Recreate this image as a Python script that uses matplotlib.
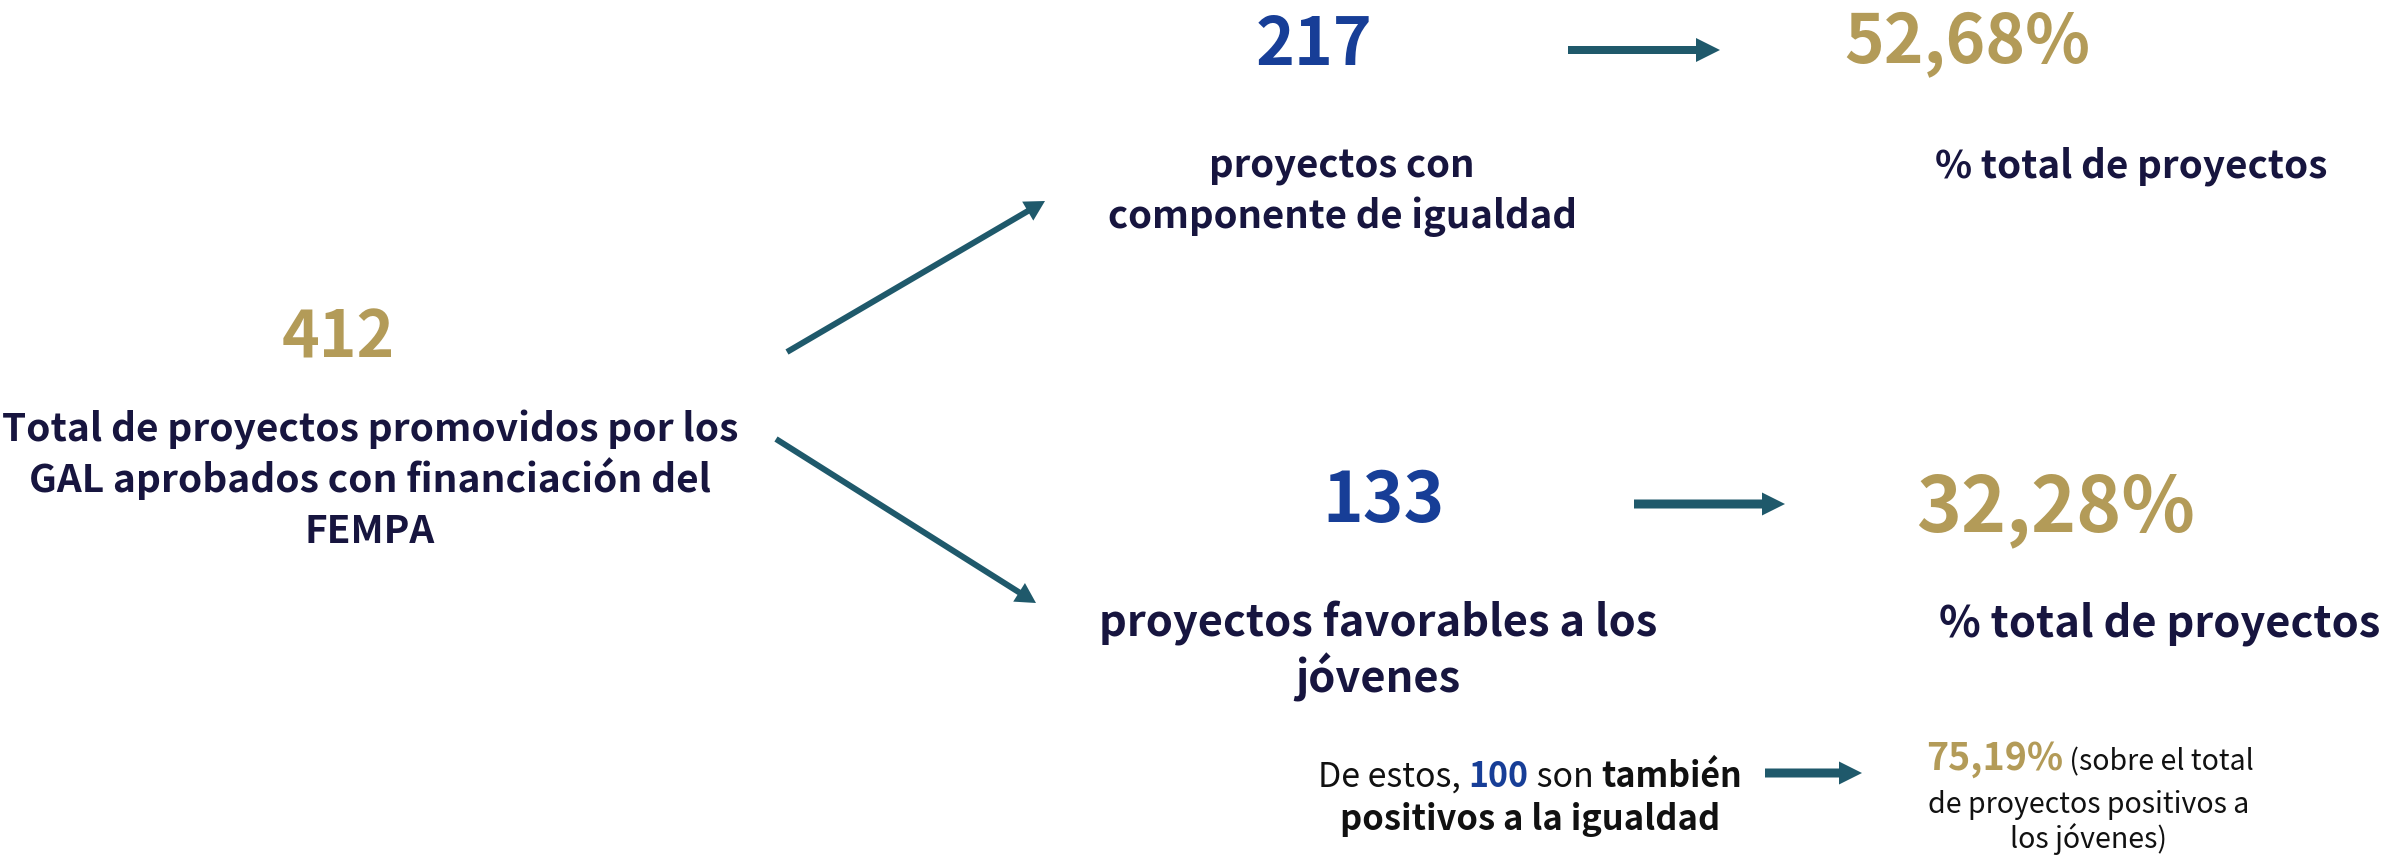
import matplotlib
matplotlib.use("Agg")
import matplotlib.pyplot as plt

# values shown in the infographic
total = 412
n_igualdad = 217
n_jovenes = 133
n_ambos = 100
pct_igualdad = "52,68%"
pct_jovenes = "32,28%"
pct_ambos = "75,19%"

label_total = ["Total de proyectos promovidos por los",
               "GAL aprobados con financiación del",
               "FEMPA"]
label_igualdad = ["proyectos con", "componente de igualdad"]
label_jovenes = ["proyectos favorables a los", "jóvenes"]
label_pct = "% total de proyectos"

NAVY = "#17153f"
BLUE = "#173e97"
GOLD = "#b39b58"
TEAL = "#1f596b"
BLACK = "#111111"

FONT = ["Noto Sans CJK JP", "DejaVu Sans"]
plt.rcParams["font.family"] = FONT

W, H = 2382, 866
fig = plt.figure(figsize=(W / 100, H / 100), dpi=100)
ax = fig.add_axes([0, 0, 1, 1])
ax.set_xlim(0, W)
ax.set_ylim(H, 0)
ax.axis("off")


def px(size):
    # pixel em size -> points
    return size * 0.72


def lines(x, y0, step, texts, size, color=NAVY, weight="bold"):
    for i, s in enumerate(texts):
        ax.text(x, y0 + i * step, s, ha="center", va="baseline",
                fontsize=px(size), color=color, fontweight=weight)


def mixed(x, y, parts):
    # parts: list of (text, size, color, weight); centered as one line
    r = fig.canvas.get_renderer()
    objs = []
    for s, size, color, weight in parts:
        t = ax.text(0, y, s, ha="left", va="baseline",
                    fontsize=px(size), color=color, fontweight=weight)
        objs.append(t)
    widths = [t.get_window_extent(r).width for t in objs]
    cur = x - sum(widths) / 2
    for t, w in zip(objs, widths):
        t.set_x(cur)
        cur += w


def arrow(x0, y0, x1, y1, width, head_w, head_l):
    ax.arrow(x0, y0, x1 - x0, y1 - y0, width=width, head_width=head_w,
             head_length=head_l, length_includes_head=True,
             color=TEAL, linewidth=0)


# left block
ax.text(338, 358, str(total), ha="center", va="baseline",
        fontsize=px(64), color=GOLD, fontweight="bold")
lines(370, 442, 50.5, label_total, 38.8)

# diagonal arrows
arrow(787, 352, 1045, 201, 6, 22, 20)
arrow(776, 439, 1036, 603, 6, 22, 20)

# upper branch
ax.text(1314, 65, str(n_igualdad), ha="center", va="baseline",
        fontsize=px(66), color=BLUE, fontweight="bold")
arrow(1568, 50, 1720, 50, 8, 24, 24)
ax.text(1967, 62, pct_igualdad, ha="center", va="baseline",
        fontsize=px(67.5), color=GOLD, fontweight="bold")
lines(1342, 177, 51, label_igualdad, 38.3)
ax.text(2131, 177, label_pct, ha="center", va="baseline",
        fontsize=px(38.6), color=NAVY, fontweight="bold")

# lower branch
ax.text(1384, 522, str(n_jovenes), ha="center", va="baseline",
        fontsize=px(69), color=BLUE, fontweight="bold")
arrow(1634, 504, 1785, 504, 9, 23, 23)
ax.text(2056, 531, pct_jovenes, ha="center", va="baseline",
        fontsize=px(76.5), color=GOLD, fontweight="bold")
lines(1378, 637, 56, label_jovenes, 43.4)
ax.text(2160, 637, label_pct, ha="center", va="baseline",
        fontsize=px(43.4), color=NAVY, fontweight="bold")

# sub note
mixed(1530, 787, [("De estos, ", 34, BLACK, "normal"),
                  (str(n_ambos), 34, BLUE, "bold"),
                  (" son ", 34, BLACK, "normal"),
                  ("también", 34, BLACK, "bold")])
mixed(1530, 830, [("positivos a la igualdad", 34.5, BLACK, "bold")])
arrow(1765, 773, 1862, 773, 9, 23, 23)

mixed(2090, 770, [(pct_ambos, 37.5, GOLD, "bold"),
                  (" (sobre el total", 28.5, BLACK, "normal")])
mixed(2089, 813, [("de proyectos positivos a", 28.5, BLACK, "normal")])
mixed(2089, 848, [("los jóvenes)", 28.5, BLACK, "normal")])

fig.savefig("out.png", dpi=100, facecolor="white")
